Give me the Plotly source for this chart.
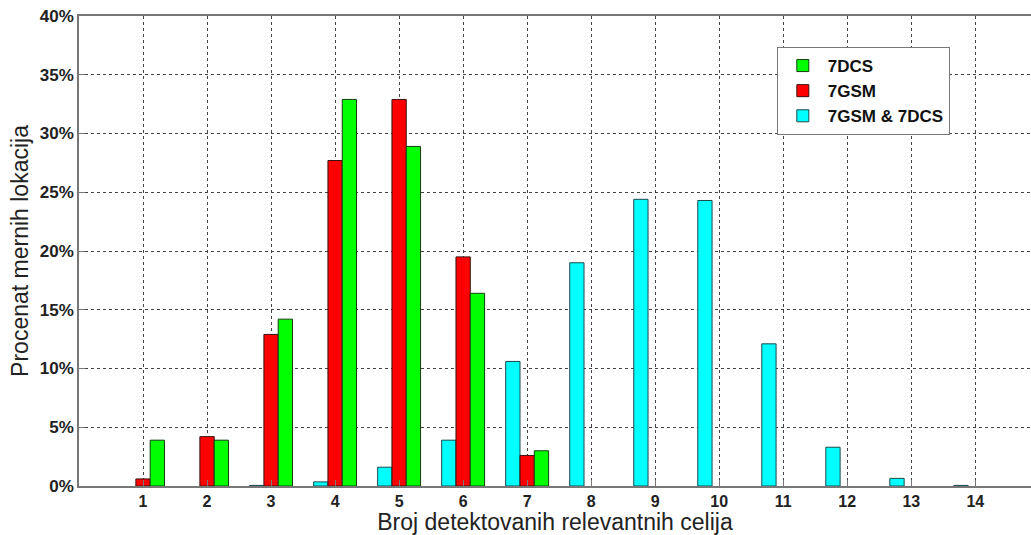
import plotly.graph_objects as go

categories = list(range(1, 15))
both = [None, None, 0.05, 0.35, 1.6, 3.9, 10.6, 19.0, 24.4, 24.3, 12.1, 3.3, 0.65, 0.05]
gsm = [0.6, 4.2, 12.9, 27.7, 32.9, 19.5, 2.6, None, None, None, None, None, None, None]
dcs = [3.9, 3.9, 14.2, 32.9, 28.9, 16.4, 3.0, None, None, None, None, None, None, None]
yticks = [0, 5, 10, 15, 20, 25, 30, 35, 40]
ytext = [f"{v}%" for v in yticks]

fig = go.Figure()
fig.add_bar(x=categories, y=both, name="7GSM & 7DCS", marker=dict(color="#00FFFF", line=dict(color="#1a4a4a", width=1)))
fig.add_bar(x=categories, y=gsm, name="7GSM", marker=dict(color="#FF0000", line=dict(color="#3a1010", width=1)))
fig.add_bar(x=categories, y=dcs, name="7DCS", marker=dict(color="#00FF00", line=dict(color="#104010", width=1)))

fig.update_layout(
    width=1031, height=535,
    margin=dict(l=79, r=0, t=16, b=49),
    paper_bgcolor="white", plot_bgcolor="white",
    barmode="group", bargap=0.33, bargroupgap=0,
    font=dict(family="Liberation Sans, Arial, sans-serif", color="#222"),
    legend=dict(x=0.733, y=0.934, xanchor="left", yanchor="top", traceorder="reversed",
                bgcolor="white", bordercolor="#777", borderwidth=1,
                font=dict(size=17, family="Liberation Sans, Arial", color="#111", weight="bold"),
                itemwidth=40),
    showlegend=True,
)
fig.update_xaxes(
    range=[0, 14.87], tickmode="array", tickvals=categories,
    ticktext=[f"<b>{c}</b>" for c in categories],
    tickfont=dict(size=16, color="#222"),
    showgrid=True, gridcolor="#444", griddash="dot", gridwidth=1,
    showline=True, linecolor="#777", linewidth=1.5, mirror=True,
    ticks="inside", ticklen=6, tickcolor="#777",
    title=dict(text="Broj detektovanih relevantnih celija", font=dict(size=23, color="#222"), standoff=3),
    zeroline=False,
)
fig.update_yaxes(
    range=[0, 40], tickmode="array", tickvals=yticks,
    ticktext=[f"<b>{t}</b>" for t in ytext],
    tickfont=dict(size=17, color="#222"),
    showgrid=True, gridcolor="#444", griddash="dot", gridwidth=1,
    showline=True, linecolor="#777", linewidth=1.5,
    ticks="inside", ticklen=6, tickcolor="#777",
    title=dict(text="Procenat mernih lokacija", font=dict(size=23, color="#222"), standoff=5),
    zeroline=False,
)
fig.write_html("out.html")
